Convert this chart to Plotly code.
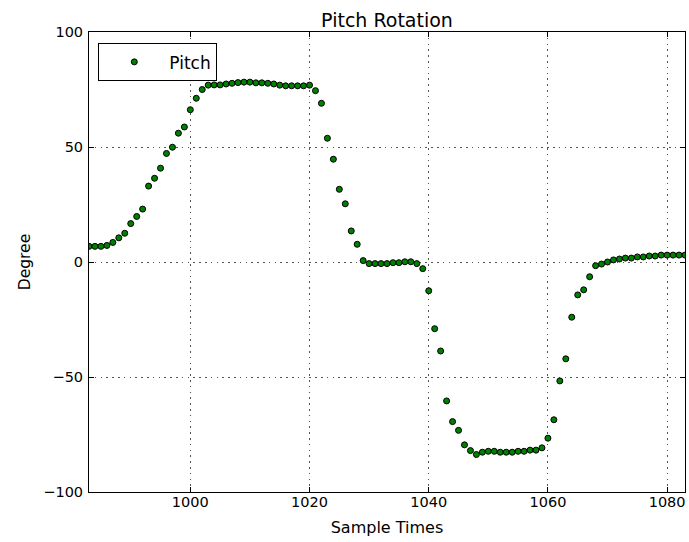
import plotly.graph_objects as go

sample_times = list(range(983, 1084))
pitch = [
    6.8, 6.8, 6.8, 7.2, 8.5, 10.5, 12.5, 16.7, 19.8, 23.0,   # 983-992
    33.0, 36.4, 40.8, 47.2, 49.9, 56.0, 58.7, 66.2, 71.2, 75.0,  # 993-1002
    76.9, 77.0, 77.0, 77.4, 77.7, 78.0, 78.2, 78.2, 77.9, 77.9,  # 1003-1012
    77.7, 77.4, 76.9, 76.6, 76.6, 76.6, 76.6, 76.9, 74.5, 69.0,  # 1013-1022
    53.8, 44.7, 31.6, 25.3, 13.5, 7.7, 0.6, -0.7, -0.7, -0.7,   # 1023-1032
    -0.7, -0.3, -0.3, 0.1, 0.1, -0.7, -2.9, -12.5, -29.0, -38.7,  # 1033-1042
    -60.4, -69.4, -73.2, -79.5, -82.0, -83.7, -82.7, -82.3, -82.3, -82.7,  # 1043-1052
    -82.7, -82.7, -82.3, -82.3, -81.8, -81.8, -80.8, -76.6, -68.6, -51.7,  # 1053-1062
    -42.1, -24.0, -14.3, -12.1, -6.4, -1.6, -0.9, 0.0, 0.9, 1.3,  # 1063-1072
    1.7, 1.7, 2.2, 2.2, 2.6, 2.6, 3.0, 3.0, 3.0, 3.0, 3.0,  # 1073-1083
]
x_ticks = [1000, 1020, 1040, 1060, 1080]
y_ticks = [-100, -50, 0, 50, 100]

font = "DejaVu Sans"

fig = go.Figure()
fig.add_trace(go.Scatter(
    x=sample_times, y=pitch, mode="markers", name="Pitch",
    marker=dict(color="#008000", size=6, line=dict(color="black", width=1)),
))

axis_common = dict(
    showline=True, linecolor="black", linewidth=1, mirror="allticks",
    ticks="inside", ticklen=5, tickcolor="black",
    showgrid=True, gridcolor="#555555", griddash="1.5px,4.3px", gridwidth=1,
    zeroline=False, tickfont=dict(family=font, size=14.5, color="black"),
)

fig.update_layout(
    width=689, height=542,
    margin=dict(l=89, r=4, t=32, b=50),
    paper_bgcolor="white", plot_bgcolor="white",
    font=dict(family=font, color="black"),
    title=dict(text="Pitch Rotation", x=0.5, xanchor="center", xref="paper",
               y=1, yref="paper", yanchor="bottom", pad=dict(b=5),
               font=dict(family=font, size=19, color="black")),
    xaxis=dict(range=[983, 1083], tickvals=x_ticks, ticklabelstandoff=-3,
               title=dict(text="Sample Times", standoff=12,
                          font=dict(family=font, size=16, color="black")),
               **axis_common),
    yaxis=dict(range=[-100, 100], tickvals=y_ticks, ticklabelstandoff=2,
               title=dict(text="Degree", standoff=8,
                          font=dict(family=font, size=15.5, color="black")),
               **axis_common),
    showlegend=True,
    legend=dict(x=0.0156, y=0.9754, xanchor="left", yanchor="top",
                bordercolor="black", borderwidth=1, bgcolor="white",
                font=dict(family=font, size=17, color="black"),
                itemwidth=60),
)

fig.write_html("out.html")
